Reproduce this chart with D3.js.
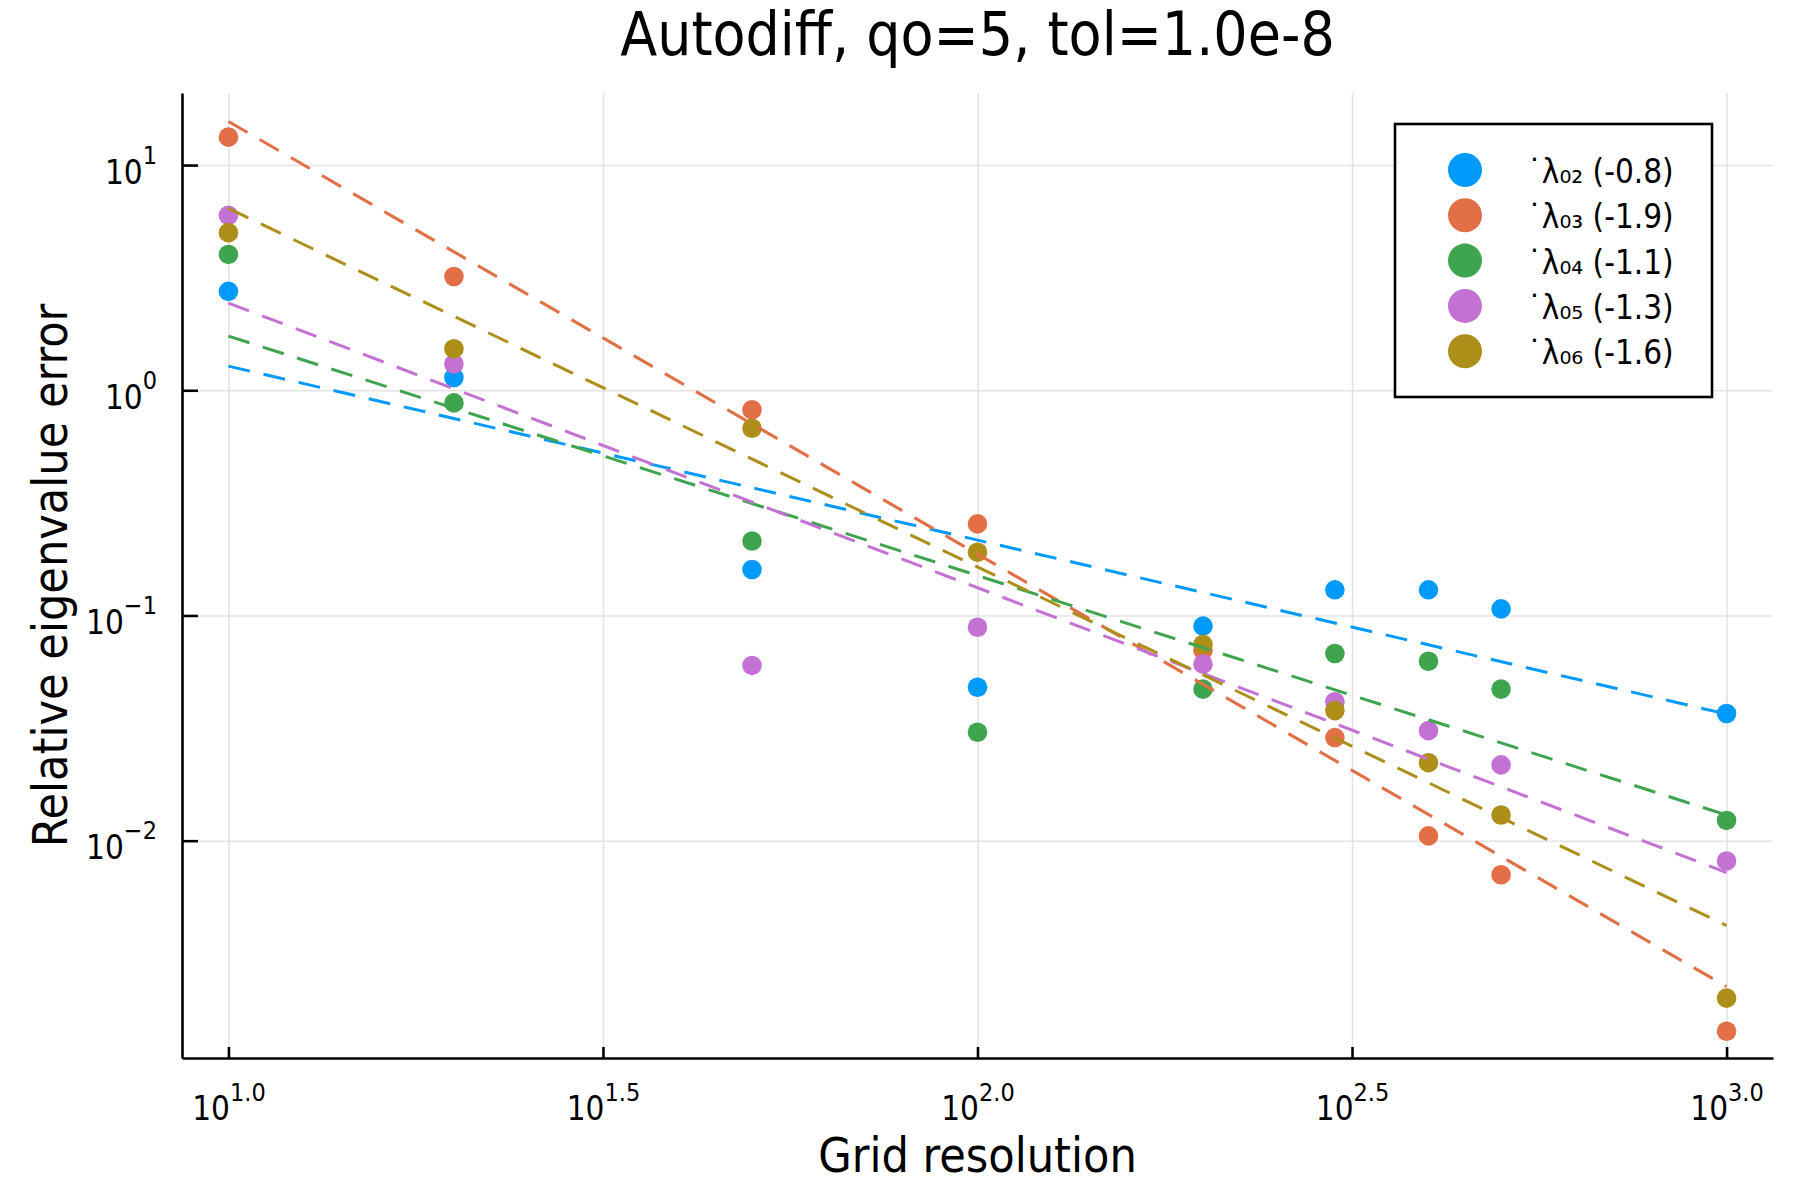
<!DOCTYPE html>
<html>
<head>
<meta charset="utf-8">
<script src="https://cdn.jsdelivr.net/npm/d3@7"></script>
<style>
  html, body { margin: 0; padding: 0; background: #ffffff; }
  svg text { font-family: "DejaVu Sans Condensed", "DejaVu Sans", sans-serif; fill: #000; }
</style>
</head>
<body>
<svg id="chart" width="1800" height="1200"></svg>
<script>
// ---------- data ----------
const gridRes = [10, 20, 50, 100, 200, 300, 400, 500, 1000];
const seriesNames = ["˙λ₀₂", "˙λ₀₃", "˙λ₀₄", "˙λ₀₅", "˙λ₀₆"];
const seriesSlopes = ["-0.8", "-1.9", "-1.1", "-1.3", "-1.6"];
const seriesColors = ["#009AFA", "#E36F47", "#3EA44E", "#C371D2", "#AC8E18"];
const errL02 = [2.75, 1.14, 0.160, 0.048, 0.0897, 0.130, 0.130, 0.107, 0.0367];
const errL03 = [13.3, 3.2, 0.819, 0.255, 0.0701, 0.0287, 0.0105, 0.00706, 0.001425];
const errL04 = [4.01, 0.879, 0.214, 0.0303, 0.0471, 0.0678, 0.0626, 0.0471, 0.0123];
const errL05 = [5.98, 1.31, 0.060, 0.0887, 0.0608, 0.0414, 0.0308, 0.0217, 0.00813];
const errL06 = [5.01, 1.53, 0.678, 0.191, 0.0743, 0.0378, 0.0222, 0.0130, 0.0020];
// fitted power-law lines: value at first and last grid resolution
const fitX = [10, 1000];
const fitL02 = [1.28, 0.0365];
const fitL03 = [15.6, 0.00225];
const fitL04 = [1.74, 0.0130];
const fitL05 = [2.44, 0.00722];
const fitL06 = [6.42, 0.0042];
const xTickExps = ["1.0", "1.5", "2.0", "2.5", "3.0"];
const yTickExps = ["−2", "−1", "0", "1"];
const xTickVals = [1.0, 1.5, 2.0, 2.5, 3.0];
const yTickVals = [-2, -1, 0, 1];
const titleText = "Autodiff, qo=5, tol=1.0e-8";
const xLabel = "Grid resolution";
const yLabel = "Relative eigenvalue error";

const errs = [errL02, errL03, errL04, errL05, errL06];
const fits = [fitL02, fitL03, fitL04, fitL05, fitL06];

// ---------- layout ----------
const L = 182, R = 1773, T = 93, B = 1058;
const svg = d3.select("#chart");
const x = d3.scaleLog().domain([Math.pow(10, 0.938), Math.pow(10, 3.062)]).range([L, R]);
const y = d3.scaleLog().domain([Math.pow(10, -2.965), Math.pow(10, 1.320)]).range([B, T]);

svg.append("rect").attr("width", 1800).attr("height", 1200).attr("fill", "#fff");

// grid
const gx = svg.append("g").attr("transform", `translate(0,${B})`)
  .call(d3.axisBottom(x).tickValues(xTickVals.map(e => Math.pow(10, e))).tickSize(-(B - T)).tickFormat(""));
gx.select(".domain").remove();
gx.selectAll("line").attr("stroke", "#e4e4e4").attr("stroke-width", 1.6);
const gy = svg.append("g").attr("transform", `translate(${L},0)`)
  .call(d3.axisLeft(y).tickValues(yTickVals.map(e => Math.pow(10, e))).tickSize(-(R - L)).tickFormat(""));
gy.select(".domain").remove();
gy.selectAll("line").attr("stroke", "#e4e4e4").attr("stroke-width", 1.6);

// axes
const ax = svg.append("g").attr("transform", `translate(0,${B})`)
  .call(d3.axisBottom(x).tickValues(xTickVals.map(e => Math.pow(10, e))).tickSizeInner(-11).tickSizeOuter(0).tickFormat(""));
ax.select(".domain").attr("stroke", "#000").attr("stroke-width", 2.6);
ax.selectAll(".tick line").attr("stroke", "#000").attr("stroke-width", 2.6);
ax.selectAll(".tick").each(function(d, i) {
  const t = d3.select(this).append("text").attr("text-anchor", "middle").attr("y", 62).attr("font-size", 33);
  t.append("tspan").text("10");
  t.append("tspan").attr("dy", -19).attr("font-size", 25).text(xTickExps[i]);
});

const ay = svg.append("g").attr("transform", `translate(${L},0)`)
  .call(d3.axisLeft(y).tickValues(yTickVals.map(e => Math.pow(10, e))).tickSizeInner(-16).tickSizeOuter(0).tickFormat(""));
ay.select(".domain").attr("stroke", "#000").attr("stroke-width", 2.6);
ay.selectAll(".tick line").attr("stroke", "#000").attr("stroke-width", 2.6);
ay.selectAll(".tick").each(function(d, i) {
  const t = d3.select(this).append("text").attr("text-anchor", "end").attr("x", -25).attr("y", 18).attr("font-size", 33);
  t.append("tspan").text("10");
  t.append("tspan").attr("dy", -20).attr("font-size", 25).text(yTickExps[i]);
});
svg.selectAll(".tick text").attr("fill", "#000");

// points
errs.forEach((arr, s) => {
  svg.append("g").selectAll("circle").data(arr).join("circle")
    .attr("cx", (d, i) => x(gridRes[i])).attr("cy", d => y(d)).attr("r", 9.8)
    .attr("fill", seriesColors[s]);
});

// fit lines
const line = d3.line().x(d => x(d[0])).y(d => y(d[1]));
fits.forEach((f, s) => {
  svg.append("path").datum(fitX.map((xv, i) => [xv, f[i]])).attr("d", line)
    .attr("fill", "none").attr("stroke", seriesColors[s]).attr("stroke-width", 3)
    .attr("stroke-dasharray", "22,14");
});

// legend
const lg = svg.append("g");
lg.append("rect").attr("x", 1395).attr("y", 124).attr("width", 317).attr("height", 273)
  .attr("fill", "#fff").attr("stroke", "#000").attr("stroke-width", 2.6);
seriesNames.forEach((n, s) => {
  const cy = 170 + s * 45.3;
  lg.append("circle").attr("cx", 1465).attr("cy", cy).attr("r", 17).attr("fill", seriesColors[s]);
  lg.append("text").attr("x", 1527).attr("y", cy + 13).attr("font-size", 33)
    .text(n + " (" + seriesSlopes[s] + ")");
});

// titles
svg.append("text").attr("x", (L + R) / 2).attr("y", 55).attr("text-anchor", "middle")
  .attr("font-size", 60).text(titleText);
svg.append("text").attr("x", (L + R) / 2).attr("y", 1172).attr("text-anchor", "middle")
  .attr("font-size", 48).text(xLabel);
svg.append("text").attr("transform", `translate(67,${(T + B) / 2}) rotate(-90)`).attr("text-anchor", "middle")
  .attr("font-size", 48).text(yLabel);
</script>
</body>
</html>
